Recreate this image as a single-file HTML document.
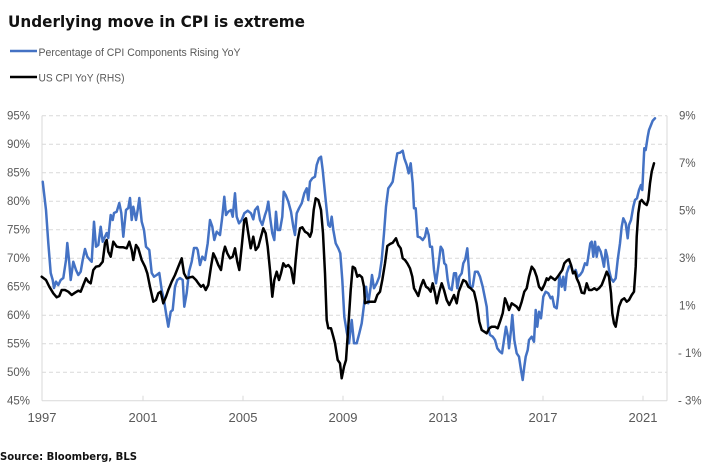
<!DOCTYPE html>
<html><head><meta charset="utf-8"><style>
html,body{margin:0;padding:0;background:#fff;}
svg{display:block;}
</style></head><body>
<svg width="715" height="472" viewBox="0 0 715 472" xmlns="http://www.w3.org/2000/svg">
<rect width="715" height="472" fill="#fff"/>
<text x="8" y="27" font-family="DejaVu Sans, sans-serif" font-weight="bold" font-size="16" fill="#111" textLength="297" lengthAdjust="spacingAndGlyphs">Underlying move in CPI is extreme</text>
<line x1="10" y1="51" x2="37" y2="51" stroke="#4472C4" stroke-width="2.5"/>
<text x="38.5" y="56" font-family="Liberation Sans, sans-serif" font-size="11" fill="#595959" textLength="202" lengthAdjust="spacingAndGlyphs">Percentage of CPI Components Rising YoY</text>
<line x1="10" y1="77" x2="37" y2="77" stroke="#000" stroke-width="2.5"/>
<text x="38.5" y="81.5" font-family="Liberation Sans, sans-serif" font-size="11" fill="#595959" textLength="86" lengthAdjust="spacingAndGlyphs">US CPI YoY (RHS)</text>

<g stroke="#d9d9d9" stroke-width="1" stroke-dasharray="4,3">
<line x1="42" y1="115.7" x2="667" y2="115.7"/>
<line x1="42" y1="144.2" x2="667" y2="144.2"/>
<line x1="42" y1="172.7" x2="667" y2="172.7"/>
<line x1="42" y1="201.2" x2="667" y2="201.2"/>
<line x1="42" y1="229.7" x2="667" y2="229.7"/>
<line x1="42" y1="258.2" x2="667" y2="258.2"/>
<line x1="42" y1="286.7" x2="667" y2="286.7"/>
<line x1="42" y1="315.2" x2="667" y2="315.2"/>
<line x1="42" y1="343.7" x2="667" y2="343.7"/>
<line x1="42" y1="372.2" x2="667" y2="372.2"/>
</g>
<g stroke="#d9d9d9" stroke-width="1">
<line x1="42" y1="115.7" x2="42" y2="400.7"/>
<line x1="667" y1="115.7" x2="667" y2="400.7"/>
<line x1="42" y1="400.7" x2="667" y2="400.7"/>
<line x1="143" y1="395.7" x2="143" y2="400.7"/>
<line x1="243" y1="395.7" x2="243" y2="400.7"/>
<line x1="343" y1="395.7" x2="343" y2="400.7"/>
<line x1="443" y1="395.7" x2="443" y2="400.7"/>
<line x1="543" y1="395.7" x2="543" y2="400.7"/>
<line x1="643" y1="395.7" x2="643" y2="400.7"/>
</g>

<g font-family="Liberation Sans, sans-serif" font-size="11.5" fill="#595959" text-anchor="end">
<text x="30" y="119.7">95%</text>
<text x="30" y="148.2">90%</text>
<text x="30" y="176.7">85%</text>
<text x="30" y="205.2">80%</text>
<text x="30" y="233.7">75%</text>
<text x="30" y="262.2">70%</text>
<text x="30" y="290.7">65%</text>
<text x="30" y="319.2">60%</text>
<text x="30" y="347.7">55%</text>
<text x="30" y="376.2">50%</text>
<text x="30" y="404.7">45%</text>
</g>
<g font-family="Liberation Sans, sans-serif" font-size="11.5" fill="#595959" text-anchor="start">
<text x="679" y="119.7">9%</text>
<text x="679" y="167.2">7%</text>
<text x="679" y="214.7">5%</text>
<text x="679" y="262.2">3%</text>
<text x="679" y="309.7">1%</text>
<text x="678" y="357.2">- 1%</text>
<text x="678" y="404.7">- 3%</text>
</g>
<g font-family="Liberation Sans, sans-serif" font-size="13" fill="#595959" text-anchor="middle">
<text x="42" y="422">1997</text>
<text x="143" y="422">2001</text>
<text x="243" y="422">2005</text>
<text x="343" y="422">2009</text>
<text x="443" y="422">2013</text>
<text x="543" y="422">2017</text>
<text x="643" y="422">2021</text>
</g>

<polyline fill="none" stroke="#4472C4" stroke-width="2.5" stroke-linejoin="round" stroke-linecap="round" points="42.7,181.7 46,210 48.3,243 50.7,273 52.7,280 54,288 56,281.7 58.3,285 60.7,280 63.3,278 66,260 67.3,243 69.3,263 70.7,280 73.3,261.7 76,270 78.3,275 80.7,271.7 82.7,260 85,249 87.3,256.7 90,260 91.7,261.7 94,221.7 96,246.7 98.3,245 100.7,226.7 102.7,241.7 105,236.7 106.7,233 108.3,238 110.7,215 112.7,220 114,213 116.7,211.7 119.3,203 121.3,213 123.3,236.7 126,210 128.3,208 130,198 131.7,220 133.3,206.7 136,220 137.7,210 139.3,198 141.7,221.7 144,230 146,246.7 149.3,250 151.7,273 154,276.7 156.7,275 159.3,273 161.7,290 164,300 166,313 168.3,326.7 170.7,311.7 172.7,310 175,286.7 177.3,280 180,278 182.7,280 184.3,306.7 186.7,293 189,271.7 191.7,261.7 194,248 196.7,248 197.7,250 200,265 202.3,256.7 205,260 207.7,243.3 210,220 212.3,226.7 214.3,240 216.7,231.7 220,235 222.3,216.7 224.3,196.7 226,215 228.3,211.7 231,210 232.7,216.7 235,193.3 236.7,216.7 239,223.3 241.7,220 244.3,213.3 247.7,210.7 251,213.3 253.3,219.3 255,210 257.7,206.7 260,220 262.3,225 265,215 266.7,210 268.3,201.7 270,216.7 272.3,233.3 274.3,240 276,211.7 277.7,230 280,230 282.3,216.7 283.7,191.7 285.7,195 288.3,201.7 291,211.7 293.3,226.7 295,235 296.7,213.3 299,208.3 301.7,203.3 304.3,193.3 306.7,188.3 308.3,200 310,181.7 312.3,178.3 315,176.7 316.7,165 319,158.3 321,156.7 322.7,170 325,193.3 326.7,210 328.3,225 330,226.7 331.7,216.7 333.3,230 335.7,243.3 338.3,248.3 340.3,253.3 342.3,280 344.3,316.7 346.7,331.7 349,343.3 351.7,320 354,343.3 356.7,343.3 359.3,333.3 361.7,323.3 364,305 366,286.7 368.3,303.3 370.7,286.7 372,275 374,288.3 376.7,283.3 379.3,276.7 381.7,260 384,233.3 386,206.7 388.3,188.3 390.7,185 392.7,181.7 395,166.7 397.3,153.3 400,152.7 402.7,150.7 404.3,158.3 406.7,165 408.7,173.3 410.7,163.3 412.7,183.3 414,208.3 415.7,208.3 417.7,236.7 420,237.3 422.7,240 425,236.7 426.7,228.3 428.7,235 430,246.7 432,246.7 434,270 436,283.3 438.3,266.7 440.7,246.7 442.7,250 444.3,263.3 446,265 447.7,280 449.3,288.3 451.7,290 454,273.3 456,273.3 457.3,288.3 459.3,276.7 461.7,273.3 463.3,263.3 465.3,259.3 467.3,248.3 468.7,266.7 470,286.7 472.7,286.7 475,271.7 477.7,271.7 480,276.7 482.7,286.7 485,298.3 486.7,306.7 488.3,328.3 490,335 492.7,336.7 495,340 497.3,348.3 500,351.7 502,353.3 504,340 506,326.7 508,336.7 509,348.3 511,330 512.3,315 514.3,340 516.7,353.3 519,356.7 521,370 522.7,380 524.3,366.7 525.7,356.7 527.7,350 529,340 531.7,336.7 534,341.7 535.7,310 537.3,326.7 539,311.7 541,318.3 543.3,296.7 545.7,291.7 548.3,293.3 550.7,298.3 552.3,296.7 554.3,306.7 556.7,308.3 558.3,295 559.3,275 561.7,286.7 563.3,276.7 565,290 566.7,273.3 569,266.7 571,265 573.3,273.3 575.7,270 577.7,276.7 580,275 582.3,271.7 585,263.3 587,265 588.3,256.7 590.3,243.3 591.7,241.7 593.3,256.7 595,241.7 596.7,256.7 598.3,246.7 600.7,251.7 602.3,258.3 604,266.7 605.7,250 607.3,256.7 609,270 611,278.3 613.3,281.7 615.7,278.3 617.7,260 620,243.3 621.7,226.7 623.3,218.3 625.7,223.3 627.7,238.3 629,225 631,220 633.3,206.7 635,200 637,198.3 639,190 641,185 642.3,190 643.3,168.3 644.3,148.3 645.7,150 647.7,136.7 649,130 651,125 652.7,120.7 655,118.3"/>

<polyline fill="none" stroke="#000" stroke-width="2.5" stroke-linejoin="round" stroke-linecap="round" points="41.7,276.7 46,280 49.3,286.7 53.3,293.3 56.7,297.3 59.3,296 61.7,290 65,290 68.3,291.7 71.7,295 75,292.7 78.3,290.7 80.7,291.7 83.3,285 86,278.3 88.3,281.7 90.7,283.3 93.3,270 96,266.7 99.3,266 102.7,261.7 105,243.3 106.7,240 108.3,251.7 110.7,256.7 113.3,241.7 116.7,246.7 120,247.3 123.3,247.3 126.7,248.3 129.3,241.7 131.7,250 133.3,260 136,245 138.3,248.3 141.7,260 145,266.7 147.3,273.3 150,286.7 153.3,301.7 156,300 158.3,293.3 160.7,291.7 163.3,303.3 166,296.7 168.3,290 171.7,281.7 175,275 178.3,266.7 181.7,258.3 184,273.3 186.7,278.3 190,277.3 192.7,276.7 196,280 198.3,283.3 201,286.7 203.3,285 205.7,290 208.3,285 211,266.7 213.3,253.3 215.7,258.3 218.3,265 221,270 223.3,253.3 225,246.7 227.3,253.3 230,258.3 232.7,256.7 235,248.3 237.3,261.7 239.3,270 241.7,246.7 244.3,220 246,218.3 248.3,233.3 250.7,248.3 253.3,236.7 255.7,250 258.3,246.7 261,236.7 263.3,228.3 265.7,233.3 267.7,246.7 270,270 272.3,296.7 274.3,280 276.7,271.7 279,280 281,273.3 283.3,263.3 285.7,266.7 288.3,265 291,268.3 293.7,283.3 295.7,260 297.7,240 300,228.3 302.3,227.3 305,231.7 307.7,233.3 310,236.7 311.7,231.7 313.7,210 315.7,198.3 318.3,200 321,210 323,233.3 325,273.3 326.7,320 328.3,328.3 331,328.3 333.3,336.7 335,343.3 337.7,360 340,363.3 341.7,378.3 344,366.7 346,360 348.3,326.7 350.7,290 352.7,266.7 355,268.3 357.3,276.7 359.3,275 362,277.3 364,286.7 365,303.3 368.3,301.7 371.7,301.7 375,301.7 377.3,295 380,291.7 382.3,280 385,263.3 387.3,246 390,244 392.7,242.7 396,238.3 398.3,245 400.7,248.3 402.7,258.3 405,260 407.3,263.3 410,268.3 412.3,276.7 414,288.3 416,291.7 418.3,296 420.7,286.7 423.3,280 426,286.7 428.3,288.3 430.7,291.7 432.7,283.3 435,293.3 436.7,303.3 439.3,291.7 441.7,283.3 444,290 446.7,300 449.3,305 451.7,300 454,295 456.7,303.3 458.7,291.7 460.7,286.7 463.3,280 466,281.7 468.3,286.7 470.7,288.3 474,291.7 476.7,303.3 479.3,321.7 481.7,330 484.3,331.7 486.7,333.3 489.3,328.3 491.7,326.7 495,326.7 497.7,328.3 500,321.7 502.7,313.3 505,298.3 507,303.3 509,310 511.7,303.3 514.3,305 516.7,306.7 519,310 521.7,301.7 524.3,291.7 526.7,288.3 529,276.7 531.7,266.7 534.3,270 536.7,276.7 539,286.7 541.7,290 544.3,285 546.7,278.3 548.3,280 550.7,276.7 552.7,278.3 555,280 557.7,276.7 560,273.3 562.3,270 564.3,263.3 566.7,260.7 569,259.3 571,265 573,273.3 575,271.7 576.7,278.3 579,283.3 581.7,292.7 584.3,293.3 586.7,283.3 589,290 591.7,290 594.3,288.3 596.7,290 599,288.3 601.7,285 604.3,278.3 606.7,271.7 609,276.7 611,293.3 612.3,313.3 614,323.3 615.7,326.7 617.3,316.7 619,306.7 621.7,300 624.3,298.3 626.7,301.7 629,300 631.7,295 634,291.7 635.7,266.7 636.7,236.7 638.3,213.3 640,201.7 641.7,200 644.3,203.3 646.7,205 648.3,200 650,183.3 651.7,171.7 654,163.3"/>

<text x="0" y="460" font-family="DejaVu Sans, sans-serif" font-weight="bold" font-size="11" fill="#111" textLength="137" lengthAdjust="spacingAndGlyphs">Source: Bloomberg, BLS</text>
</svg>
</body></html>
